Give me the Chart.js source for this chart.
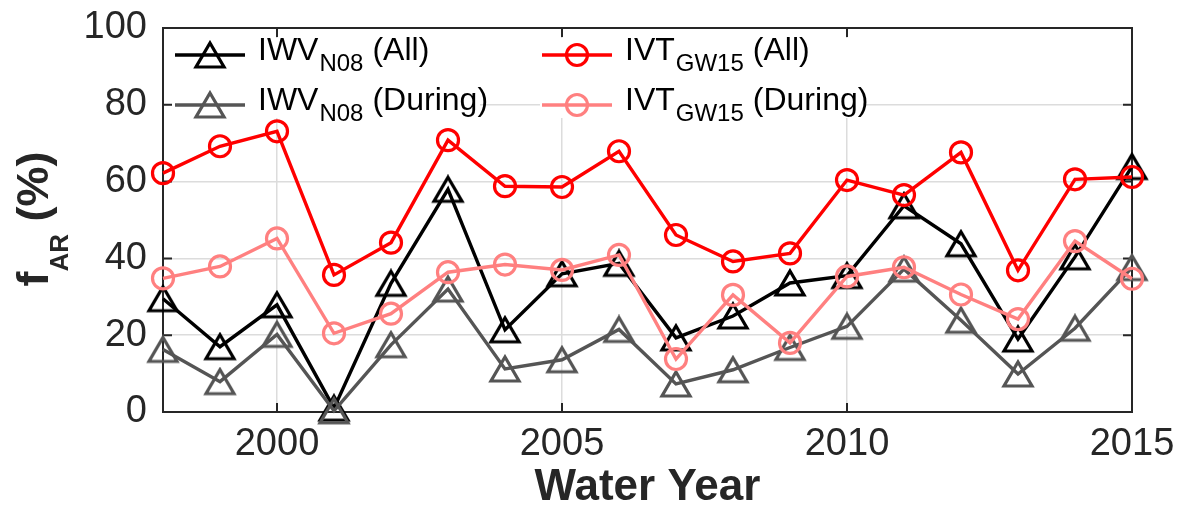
<!DOCTYPE html>
<html>
<head>
<meta charset="utf-8">
<script src="https://cdn.jsdelivr.net/npm/chart.js@4.4.0/dist/chart.umd.min.js"></script>
<style>
  html, body { margin: 0; padding: 0; background: #fff; }
  #wrap { position: relative; width: 1181px; height: 508px; }
</style>
</head>
<body>
<div id="wrap"><canvas id="arChart"></canvas></div>
<script>
// water years on the x axis
const years = [1998, 1999, 2000, 2001, 2002, 2003, 2004, 2005, 2006, 2007, 2008, 2009, 2010, 2011, 2012, 2013, 2014, 2015];

// f_AR (%) per water year
const iwvAll    = [29.5, 17.0, 27.9, 1.0, 33.5, 58.0, 21.4, 36.0, 38.7, 19.3, 25.0, 33.6, 35.5, 53.7, 43.8, 19.0, 40.4, 63.9];
const iwvDuring = [16.3, 7.9, 20.2, 0.3, 17.5, 32.0, 11.2, 13.6, 21.5, 7.3, 11.0, 16.8, 22.3, 37.2, 23.9, 9.9, 21.8, 37.6];
const ivtAll    = [62.2, 69.2, 73.1, 35.7, 44.1, 70.8, 58.8, 58.6, 67.9, 46.1, 39.2, 41.3, 60.4, 56.5, 67.6, 36.9, 60.6, 61.2];
const ivtDuring = [34.8, 37.9, 45.2, 20.5, 25.6, 36.4, 38.4, 37.0, 40.9, 13.8, 30.5, 18.0, 35.3, 37.7, 30.6, 24.2, 44.5, 34.7];

const xTicks = [2000, 2005, 2010, 2015];
const yTicks = [0, 20, 40, 60, 80, 100];

// legend text pieces: main + subscript + tail
const legendMain = ['IWV', 'IWV', 'IVT', 'IVT'];
const legendSub  = ['N08', 'N08', 'GW15', 'GW15'];
const legendTail = ['(All)', '(During)', '(All)', '(During)'];

const FONT = "'Liberation Sans', Arial, Helvetica, sans-serif";
const AXIS_COLOR = '#262626';
const GRID_COLOR = '#dcdcdc';

const colors = ['#000000', '#555555', '#ff0000', '#ff8080'];

// matlab-like '^' marker: triangle centred on its bounding box
function triangleMarker(color) {
  const c = document.createElement('canvas');
  c.width = 34; c.height = 30;
  const g = c.getContext('2d');
  g.strokeStyle = color;
  g.lineWidth = 3.2;
  g.lineJoin = 'miter';
  g.beginPath();
  g.moveTo(17, 3);
  g.lineTo(31, 27);
  g.lineTo(3, 27);
  g.closePath();
  g.stroke();
  return c;
}

const styles = [triangleMarker(colors[0]), triangleMarker(colors[1]), 'circle', 'circle'];
const radii = [15, 15, 10.5, 10.5];

function toPoints(vals) {
  return years.map((x, i) => ({ x: x, y: vals[i] }));
}

function makeSet(i, vals) {
  return {
    label: legendMain[i] + legendSub[i] + ' ' + legendTail[i],
    data: toPoints(vals),
    borderColor: colors[i],
    backgroundColor: 'rgba(0,0,0,0)',
    borderWidth: 3.4,
    pointStyle: styles[i],
    pointRadius: radii[i],
    pointBorderWidth: 3.2,
    pointBorderColor: colors[i],
    pointBackgroundColor: 'rgba(0,0,0,0)',
    tension: 0,
    clip: false,
    order: 4 - i
  };
}

function drawMarker(ctx, style, x, y, r) {
  if (style === 'circle') {
    ctx.lineWidth = 3.2;
    ctx.beginPath();
    ctx.arc(x, y, r, 0, Math.PI * 2);
    ctx.stroke();
  } else {
    ctx.drawImage(style, x - style.width / 2, y - style.height / 2);
  }
}

const decor = {
  id: 'decor',
  beforeDatasetsDraw(chart) {
    const ctx = chart.ctx;
    const a = chart.chartArea;
    const xs = chart.scales.x, ys = chart.scales.y;
    ctx.save();
    // white legend backgrounds (hide grid)
    ctx.fillStyle = '#fff';
    ctx.fillRect(172, 38, 308, 80);
    ctx.fillRect(540, 38, 326, 80);
    // axes box
    ctx.strokeStyle = AXIS_COLOR;
    ctx.lineWidth = 2;
    ctx.strokeRect(a.left, a.top, a.right - a.left, a.bottom - a.top);
    // inward ticks
    ctx.beginPath();
    const tl = 9;
    xTicks.forEach(v => {
      const px = xs.getPixelForValue(v);
      ctx.moveTo(px, a.bottom); ctx.lineTo(px, a.bottom - tl);
      ctx.moveTo(px, a.top); ctx.lineTo(px, a.top + tl);
    });
    yTicks.forEach(v => {
      const py = ys.getPixelForValue(v);
      ctx.moveTo(a.left, py); ctx.lineTo(a.left + tl, py);
      ctx.moveTo(a.right, py); ctx.lineTo(a.right - tl, py);
    });
    ctx.stroke();
    ctx.restore();
  },
  afterDatasetsDraw(chart) {
    const ctx = chart.ctx;
    const a = chart.chartArea;
    ctx.save();

    // legend
    const cols = [{ l0: 175, l1: 245, tx: 258 }, { l0: 542, l1: 612, tx: 625 }];
    const rows = [55, 105];
    for (let i = 0; i < 4; i++) {
      const c = cols[Math.floor(i / 2)];
      const ly = rows[i % 2];
      ctx.strokeStyle = colors[i];
      ctx.lineWidth = 3.4;
      ctx.beginPath();
      ctx.moveTo(c.l0, ly); ctx.lineTo(c.l1, ly);
      ctx.stroke();
      drawMarker(ctx, styles[i], (c.l0 + c.l1) / 2, ly, radii[i]);

      const base = ly + 5;
      ctx.fillStyle = '#000';
      ctx.textBaseline = 'alphabetic';
      ctx.textAlign = 'left';
      ctx.font = '32px ' + FONT;
      let x = c.tx;
      ctx.fillText(legendMain[i], x, base);
      x += ctx.measureText(legendMain[i]).width + 1;
      ctx.font = '24px ' + FONT;
      ctx.fillText(legendSub[i], x, base + 11);
      x += ctx.measureText(legendSub[i]).width + 9;
      ctx.font = '32px ' + FONT;
      ctx.fillText(legendTail[i], x, base);
    }

    // x axis title
    ctx.fillStyle = AXIS_COLOR;
    ctx.font = 'bold 44px ' + FONT;
    ctx.textAlign = 'center';
    ctx.textBaseline = 'alphabetic';
    ctx.fillText('Water Year', (a.left + a.right) / 2, 500);

    // y axis title with subscript
    ctx.translate(48, (a.top + a.bottom) / 2 - 1);
    ctx.rotate(-Math.PI / 2);
    ctx.textAlign = 'left';
    ctx.font = 'bold 45px ' + FONT;
    const wf = ctx.measureText('f').width;
    const wp = ctx.measureText(' (%)').width;
    ctx.font = 'bold 26px ' + FONT;
    const wa = ctx.measureText('AR').width;
    let x0 = -(wf + wa + wp) / 2;
    ctx.font = 'bold 45px ' + FONT;
    ctx.fillText('f', x0, 0);
    ctx.font = 'bold 26px ' + FONT;
    ctx.fillText('AR', x0 + wf, 20);
    ctx.font = 'bold 45px ' + FONT;
    ctx.fillText(' (%)', x0 + wf + wa, 0);
    ctx.restore();
  }
};

new Chart(document.getElementById('arChart'), {
  type: 'line',
  data: {
    datasets: [
      makeSet(0, iwvAll),
      makeSet(1, iwvDuring),
      makeSet(2, ivtAll),
      makeSet(3, ivtDuring)
    ]
  },
  options: {
    responsive: true,
    maintainAspectRatio: false,
    animation: false,
    layout: { padding: { left: 0, right: 49, top: 28, bottom: 0 } },
    plugins: {
      legend: { display: false },
      tooltip: { enabled: false }
    },
    scales: {
      x: {
        type: 'linear',
        min: 1998,
        max: 2015,
        afterBuildTicks: scale => { scale.ticks = xTicks.map(v => ({ value: v })); },
        afterFit: scale => {
          scale.height = 96;
          scale.paddingLeft = 0; scale.paddingRight = 0;
        },
        grid: { color: GRID_COLOR, lineWidth: 1.5, drawTicks: false },
        border: { display: false },
        ticks: {
          color: AXIS_COLOR,
          font: { family: FONT, size: 38 },
          padding: 10,
          maxRotation: 0,
          autoSkip: false,
          callback: v => String(v)
        }
      },
      y: {
        min: 0,
        max: 100,
        afterBuildTicks: scale => { scale.ticks = yTicks.map(v => ({ value: v })); },
        afterFit: scale => {
          scale.width = 163;
          scale.paddingTop = 0; scale.paddingBottom = 0;
        },
        grid: { color: GRID_COLOR, lineWidth: 1.5, drawTicks: false },
        border: { display: false },
        ticks: {
          color: AXIS_COLOR,
          font: { family: FONT, size: 38 },
          padding: 16,
          callback: v => String(v)
        }
      }
    }
  },
  plugins: [decor]
});
</script>
</body>
</html>
